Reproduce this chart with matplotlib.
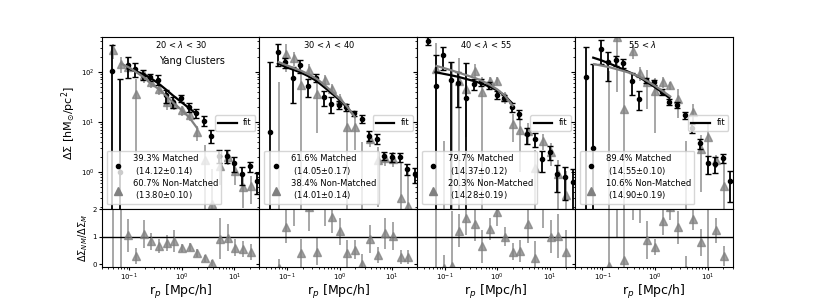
import matplotlib
matplotlib.use('Agg')
import matplotlib.pyplot as plt
from matplotlib.lines import Line2D
import numpy as np

nan = np.nan

# radial bins [Mpc/h]
r_p = [0.048, 0.067, 0.093, 0.13, 0.18, 0.25, 0.36, 0.50, 0.69, 0.97,
       1.35, 1.88, 2.63, 3.67, 5.13, 7.16, 10.0, 14.0, 19.5, 27.2]

titles = ['20 < $\\lambda$ < 30', '30 < $\\lambda$ < 40', '40 < $\\lambda$ < 55', '55 < $\\lambda$']
title_x = [0.34, 0.278, 0.27, 0.335]

lab_m = ['39.3% Matched\n (14.12$\\pm$0.14)', '61.6% Matched\n (14.05$\\pm$0.17)',
         '79.7% Matched\n (14.37$\\pm$0.12)', '89.4% Matched\n (14.55$\\pm$0.10)']
lab_nm = ['60.7% Non-Matched\n (13.80$\\pm$0.10)', '38.4% Non-Matched\n (14.01$\\pm$0.14)',
          '20.3% Non-Matched\n (14.28$\\pm$0.19)', '10.6% Non-Matched\n (14.90$\\pm$0.19)']

# matched (black)
m1 = [103, 1.0, 134, 115, 87, 78, 69, 34, 25, 30, 20, 15, 10.6, 5.3, 2.1, 2.1, 1.5, 0.91, 1.3, 0.67]
m1e = [233, 71, 60, 35, 20, 12, 15, 10, 6, 5, 4, 3, 2.5, 1.5, 0.6, 0.6, 0.5, 0.35, 0.3, 0.3]
m2 = [6.4, 247, 156, 74, 134, 51, 76, 31, 23, 22, 19.6, 14.8, 11.5, 5.3, 4.6, 2.1, 2.0, 2.0, 1.15, 0.91]
m2e = [150, 115, 35, 50, 40, 20, 15, 10, 8, 4, 3, 2, 2, 1.2, 1.0, 0.4, 0.4, 0.4, 0.3, 0.3]
m3 = [410, 51, 210, 68, 60, 30, 58, 62, 53, 35, 30, 20, 14.2, 5.6, 4.6, 1.8, 2.5, 0.9, 0.78, 0.62]
m3e = [75, 160, 100, 90, 40, 120, 15, 10, 8, 6, 4, 4, 3, 2, 1.5, 0.8, 0.8, 0.5, 0.5, 0.5]
m4 = [80, 3.0, 285, 155, 169, 146, 65, 29, 68, 61, 40, 25, 21.5, 13.4, 7.5, 3.7, 1.5, 1.45, 1.9, 0.65]
m4e = [230, 141, 140, 90, 40, 30, 30, 12, 8, 6, 5, 3.5, 3, 2, 1.5, 0.8, 0.6, 0.5, 0.4, 0.4]

# non-matched (grey)
nm1 = [268, 144, 122, 36, 85, 62, 45, 25, 23, 17, 13.4, 6.2, 1.7, 0.23, 1.34, 1.96, 1.06, 0.49, 0.53, nan]
nm1e = [90, 50, 30, 34, 25, 15, 10, 8, 6, 4, 3, 2, 1.8, 0.9, 0.8, 0.6, 0.5, 0.3, 0.3, nan]
nm2 = [nan, 0.05, 229, 191, 53, 106, 36, 67, 46, 27.5, 7.8, 7.8, 0.15, 4.6, 1.7, 1.9, 1.85, 0.3, 0.21, nan]
nm2e = [nan, 62, 130, 60, 55, 35, 30, 20, 12, 8, 16, 5, 3.8, 1.5, 1.5, 0.6, 0.6, 1.2, 1.0, nan]
nm3 = [nan, 115, 0.1, 0.05, 65, 45, 105, 40, 65, 65, 31, 9, 7, 6.5, 1.2, 4.2, 2.5, 0.91, 0.34, nan]
nm3e = [nan, 250, 4.1, 150, 120, 40, 40, 40, 15, 12, 8, 5, 6, 3, 1.5, 1.5, 1.2, 0.8, 0.7, nan]
nm4 = [nan, nan, nan, 0.1, 490, 18, 260, 96, 63, 41, 62, 53, 29, 0.1, 16, 2.9, 4.9, 1.7, 0.53, nan]
nm4e = [nan, nan, nan, 105, 450, 100, 80, 30, 45, 35, 15, 10, 17, 4.1, 7, 2.5, 4, 0.5, 1.2, nan]

# ratio NM / M
q1 = [2.6, 5, 1.05, 0.3, 1.1, 0.83, 0.66, 0.78, 0.85, 0.58, 0.63, 0.4, 0.21, 0.04, 0.93, 0.97, 0.6, 0.56, 0.44, nan]
q1e = [3, 6, 0.6, 0.3, 0.5, 0.3, 0.25, 0.3, 0.4, 0.15, 0.15, 0.15, 0.12, 0.1, 0.75, 0.5, 0.3, 0.3, 0.3, nan]
q2 = [nan, -0.15, 1.36, 2.6, 0.4, 2.1, 0.46, 2.2, 1.73, 1.2, 0.39, 0.53, 0.02, 0.91, 0.33, 1.12, 1.03, 0.25, 0.25, nan]
q2e = [nan, 0.35, 0.6, 1.2, 0.5, 0.9, 0.5, 0.8, 0.6, 0.5, 0.5, 0.35, 0.35, 0.5, 0.3, 0.55, 0.5, 0.25, 0.25, nan]
q3 = [nan, 2.3, -0.15, -0.05, 1.22, 1.68, 1.45, 0.65, 1.28, 1.9, 1.0, 0.46, 0.48, 1.47, 0.24, 2.3, 1.0, 1.02, 0.45, nan]
q3e = [nan, 3, 0.5, 2, 0.6, 0.6, 0.6, 0.6, 0.4, 0.5, 0.35, 0.3, 0.4, 0.7, 0.6, 1, 0.6, 0.8, 0.8, nan]
q4 = [nan, nan, nan, -0.05, 3.0, 0.15, 4.0, 3.2, 0.89, 0.62, 1.57, 2.1, 1.35, -0.2, 1.65, 0.79, 3.3, 1.23, 0.3, nan]
q4e = [nan, nan, nan, 2.5, 2.0, 1.9, 2.4, 1.7, 0.7, 0.3, 0.5, 0.5, 0.6, 0.5, 0.4, 0.5, 3.5, 0.45, 0.35, nan]

# fits, sampled on r_p
f1m = [nan, nan, 115, 103, 90, 76, 58, 44, 33, 25, 19, 14.5, nan, nan, nan, nan, nan, nan, nan, nan]
f1nm = [nan, 145, 123, 98, 78, 58, 44, 32, 23, 17, 12, 7.5, nan, nan, nan, nan, nan, nan, nan, nan]
f2m = [nan, 145, 125, 110, 97, 82, 66, 50, 38, 28, 20, 13.5, nan, nan, nan, nan, nan, nan, nan, nan]
f2nm = [nan, 155, 135, 118, 104, 88, 71, 54, 40, 29, 20, 12.5, nan, nan, nan, nan, nan, nan, nan, nan]
f3m = [nan, 98, 91, 85, 79, 72, 65, 58, 51, 43, 34, 24, nan, nan, nan, nan, nan, nan, nan, nan]
f3nm = [nan, 130, 118, 106, 95, 85, 75, 65, 55, 44, 33, 21, nan, nan, nan, nan, nan, nan, nan, nan]
f4m = [nan, 190, 170, 148, 129, 110, 93, 78, 63, 50, 39, 30, nan, nan, nan, nan, nan, nan, nan, nan]
f4nm = [nan, 141, 132, 123, 112, 102, 91, 78, 65, 52, 41, 32, nan, nan, nan, nan, nan, nan, nan, nan]

panels = [(m1, m1e, nm1, nm1e, q1, q1e, f1m, f1nm),
          (m2, m2e, nm2, nm2e, q2, q2e, f2m, f2nm),
          (m3, m3e, nm3, nm3e, q3, q3e, f3m, f3nm),
          (m4, m4e, nm4, nm4e, q4, q4e, f4m, f4nm)]

fig = plt.figure(figsize=(8.14, 3.05), dpi=100)
gs = fig.add_gridspec(2, 4, height_ratios=[3, 1], hspace=0, wspace=0,
                      left=0.125, right=0.9, top=0.88, bottom=0.125)

r = np.array(r_p)
r_nm = r * 1.04  # small shift so the two series don't sit on top of each other

ax0 = None
axr0 = None
for i, (m, me, nm, nme, q, qe, fm, fnm) in enumerate(panels):
    if ax0 is None:
        ax = fig.add_subplot(gs[0, i])
        axr = fig.add_subplot(gs[1, i], sharex=ax)
        ax0, axr0 = ax, axr
    else:
        ax = fig.add_subplot(gs[0, i], sharex=ax0, sharey=ax0)
        axr = fig.add_subplot(gs[1, i], sharex=ax0, sharey=axr0)

    ax.set_xscale('log')
    ax.set_yscale('log')

    ax.errorbar(r, m, yerr=me, fmt='o', color='k', ms=3, capsize=2, elinewidth=1.3, zorder=3)
    ax.errorbar(r_nm, nm, yerr=nme, fmt='^', color='grey', ms=6, alpha=0.75, elinewidth=1.3, zorder=2)
    fit_line, = ax.plot(r, fm, color='k', lw=1.6, zorder=4)
    ax.plot(r_nm, fnm, color='grey', lw=1.6, zorder=4)

    h_m = Line2D([], [], marker='o', color='k', ls='', ms=3)
    h_nm = Line2D([], [], marker='^', color='grey', ls='', ms=6)
    leg1 = ax.legend([h_m, h_nm], [lab_m[i], lab_nm[i]], loc='lower left', fontsize=6,
                     borderaxespad=0.6, handletextpad=0.8, labelspacing=0.25, borderpad=0.35)
    ax.add_artist(leg1)
    ax.legend([fit_line], ['fit'], loc='center right', fontsize=6, handlelength=2.2,
              borderaxespad=0.5)

    ax.text(title_x[i], 0.955, titles[i], transform=ax.transAxes, fontsize=6, va='center')
    if i == 0:
        ax.text(0.363, 0.861, 'Yang Clusters', transform=ax.transAxes, fontsize=7, va='center')

    axr.errorbar(r_nm, q, yerr=qe, fmt='^', color='grey', ms=6, alpha=0.75, elinewidth=1.3)
    axr.axhline(1, color='k', lw=1)

    ax.set_xlim(0.03, 30)
    ax.set_ylim(0.18, 500)
    axr.set_ylim(-0.1, 2)
    axr.set_yticks([0, 1, 2])

    ax.tick_params(labelbottom=False, labelsize=5)
    ax.tick_params(which='major', length=3, pad=2)
    ax.tick_params(which='minor', length=1.5)
    axr.tick_params(labelsize=5)
    axr.tick_params(which='major', length=2.5, pad=1)
    axr.tick_params(which='minor', length=1.5)
    axr.set_xlabel(r'r$_p$ [Mpc/h]', fontsize=9, labelpad=0)
    if i > 0:
        ax.tick_params(labelleft=False)
        axr.tick_params(labelleft=False)
    else:
        ax.set_ylabel(r'$\Delta\Sigma$ [hM$_{\odot}$/pc$^2$]', fontsize=8, labelpad=2)
        axr.set_ylabel(r'$\Delta\Sigma_{NM}/\Delta\Sigma_{M}$', fontsize=7, labelpad=2)

fig.savefig('out.png', dpi=100)
